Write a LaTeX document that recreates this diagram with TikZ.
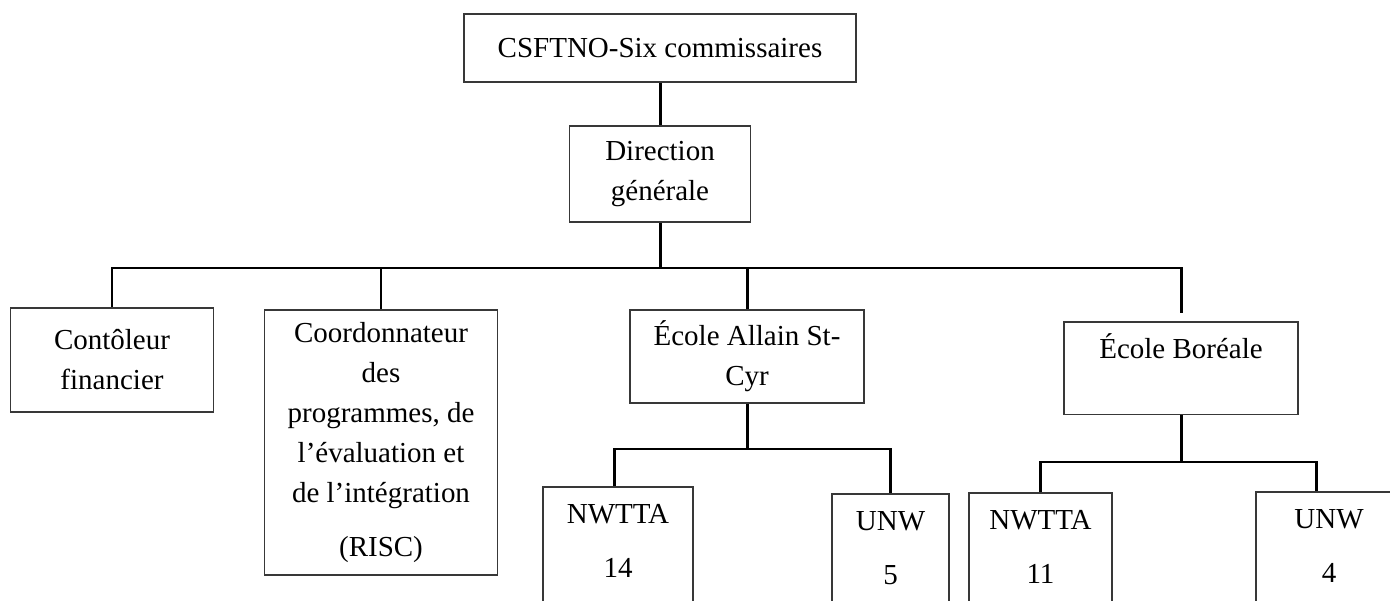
\documentclass[tikz,border=0pt]{standalone}
\usepackage{fontspec}
\setmainfont{Liberation Serif}
\begin{document}
\begin{tikzpicture}[
    x=0.02cm, y=-0.02cm,
    box/.style={rectangle, draw=black!78, line width=0.9pt, align=center, inner sep=0pt,
        font=\fontsize{16.5pt}{22.8pt}\selectfont},
    topbox/.style={box, anchor=north, text height=21pt},
    unitbox/.style={box, anchor=north, text height=51.8pt, text depth=3cm},
    link/.style={draw=black, line width=1.7pt}
]
    \clip (0,0) rectangle (1390,601);

    \node[box, minimum width=7.84cm, minimum height=1.36cm] (csf) at (660,48) {CSFTNO-Six commissaires};
    \node[box, minimum width=3.62cm, minimum height=1.92cm] (dg) at (660,174) {Direction\\générale};

    \node[box, minimum width=4.06cm, minimum height=2.08cm] (ctrl) at (112,360) {Contôleur\\financier};
    \node[box, minimum width=4.66cm, minimum height=5.3cm] (coord) at (381,442.5)
        {Coordonnateur\\des\\programmes, de\\l’évaluation et\\de l’intégration\\[8pt](RISC)};
    \node[box, minimum width=4.68cm, minimum height=1.86cm] (asc) at (747,356.5) {École Allain St-\\Cyr};
    \node[topbox, minimum width=4.68cm, text depth=31.8pt] (bor) at (1181,321) {École Boréale};

    \node[unitbox, minimum width=3cm] (n14) at (618,486) {NWTTA\\[8pt]14};
    \node[unitbox, minimum width=2.34cm] (u5) at (890.5,493) {UNW\\[8pt]5};
    \node[unitbox, minimum width=2.86cm] (n11) at (1040.5,492) {NWTTA\\[8pt]11};
    \node[unitbox, minimum width=2.92cm] (u4) at (1329,491) {UNW\\[8pt]4};

    \coordinate (bus) at (0,268);
    \coordinate (sub1) at (0,449);
    \coordinate (sub2) at (0,462);

    \draw[link] (csf.south) -- (dg.north);
    \draw[link] (dg.south) -- (dg.south |- bus);
    \draw[link] (ctrl.north) |- (bor.north |- bus) -- ([yshift=4.5pt]bor.north);
    \foreach \n in {coord, asc}
        \draw[link] (\n.north) -- (\n.north |- bus);

    % sous-niveaux des ecoles
    \draw[link] (asc.south) -- (asc.south |- sub1);
    \draw[link] ([xshift=-0.08cm]n14.north) |- (u5.north |- sub1) -- (u5.north);
    \draw[link] (bor.south) -- (bor.south |- sub2);
    \draw[link] (n11.north) |- ([xshift=-0.26cm]u4.north |- sub2) -- ([xshift=-0.26cm]u4.north);
\end{tikzpicture}
\end{document}
